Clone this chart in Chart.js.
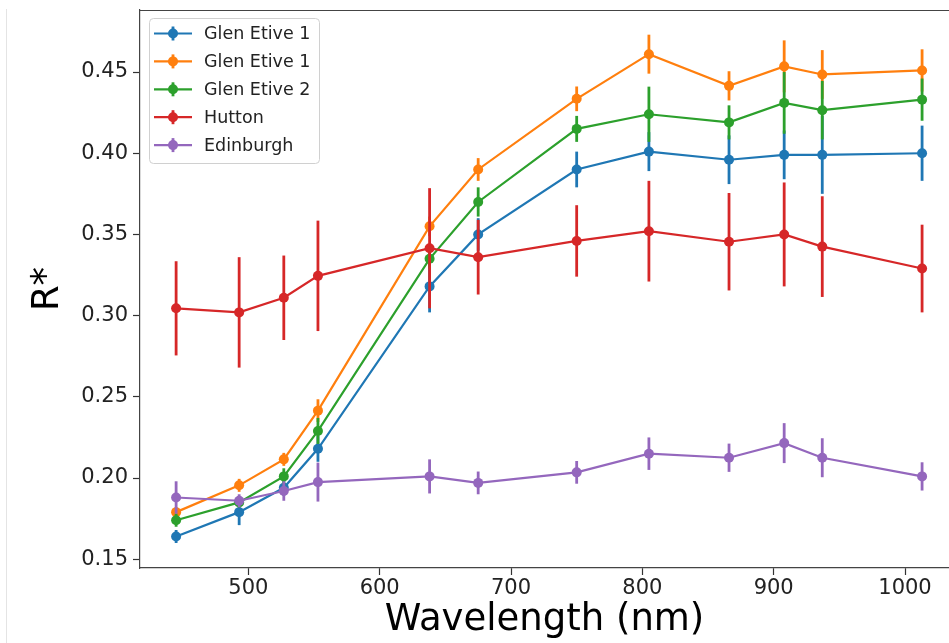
<!DOCTYPE html>
<html>
<head>
<meta charset="utf-8">
<script src="https://cdn.jsdelivr.net/npm/chart.js@4.4.0/dist/chart.umd.min.js"></script>
<style>
  body { margin: 0; background: #fff; overflow: hidden; }
  #wrap { position: relative; width: 949px; height: 643px; overflow: hidden; }
  #edge { position: absolute; left: 6px; top: 9px; bottom: 0; width: 1px; background: #e4e4e4; }
</style>
</head>
<body>
<div id="wrap">
  <!-- a little wider than the page: the reference axes run off the right edge -->
  <canvas id="chart" width="954" height="643"></canvas>
  <div id="edge"></div>
</div>
<script>
// wavelengths of the bands (nm)
const wavelengths = [445, 493, 527, 553, 638, 675, 750, 805, 866, 908, 937, 1013];

const names = ["Glen Etive 1", "Glen Etive 1", "Glen Etive 2", "Hutton", "Edinburgh"];
const colors = ["#1f77b4", "#ff7f0e", "#2ca02c", "#d62728", "#9467bd"];

const glenEtive1a = [0.164, 0.179, 0.194, 0.218, 0.318, 0.350, 0.390, 0.401, 0.396, 0.399, 0.399, 0.400];
const glenEtive1aErr = [0.004, 0.008, 0.005, 0.008, 0.016, 0.010, 0.011, 0.012, 0.015, 0.015, 0.024, 0.017];

const glenEtive1b = [0.179, 0.1955, 0.2115, 0.2415, 0.355, 0.390, 0.4335, 0.461, 0.4415, 0.4535, 0.4485, 0.451];
const glenEtive1bErr = [0.003, 0.004, 0.004, 0.007, 0.006, 0.007, 0.0076, 0.012, 0.009, 0.016, 0.015, 0.013];

const glenEtive2 = [0.174, 0.185, 0.201, 0.229, 0.335, 0.370, 0.415, 0.424, 0.419, 0.431, 0.4265, 0.433];
const glenEtive2Err = [0.004, 0.003, 0.005, 0.008, 0.006, 0.009, 0.008, 0.017, 0.0105, 0.019, 0.018, 0.013];

const hutton = [0.3045, 0.302, 0.311, 0.3245, 0.3415, 0.336, 0.346, 0.352, 0.3455, 0.350, 0.3425, 0.329];
const huttonErr = [0.029, 0.034, 0.026, 0.034, 0.037, 0.023, 0.022, 0.031, 0.030, 0.032, 0.031, 0.027];

const edinburgh = [0.188, 0.186, 0.192, 0.1975, 0.201, 0.197, 0.2035, 0.215, 0.2125, 0.2215, 0.2125, 0.201];
const edinburghErr = [0.010, 0.004, 0.006, 0.012, 0.0105, 0.007, 0.007, 0.010, 0.0087, 0.0123, 0.012, 0.0087];

const xTicks = [500, 600, 700, 800, 900, 1000];
const yTicks = [0.15, 0.20, 0.25, 0.30, 0.35, 0.40, 0.45];

const series = [glenEtive1a, glenEtive1b, glenEtive2, hutton, edinburgh];
const errors = [glenEtive1aErr, glenEtive1bErr, glenEtive2Err, huttonErr, edinburghErr];

const FONT = "'DejaVu Sans', sans-serif";

// vertical error bars, drawn just under each dataset's own line
const errorBars = {
  id: "errorBars",
  beforeDatasetDraw(chart, args) {
    const i = args.index;
    const ctx = chart.ctx;
    const y = chart.scales.y;
    ctx.save();
    ctx.strokeStyle = colors[i];
    ctx.lineWidth = 2.8;
    args.meta.data.forEach((pt, j) => {
      const v = series[i][j], e = errors[i][j];
      ctx.beginPath();
      ctx.moveTo(pt.x, y.getPixelForValue(v - e));
      ctx.lineTo(pt.x, y.getPixelForValue(v + e));
      ctx.stroke();
    });
    ctx.restore();
  }
};

// top spine + matplotlib-like legend inside the axes
const frame = {
  id: "frame",
  afterDraw(chart) {
    const ctx = chart.ctx;
    const a = chart.chartArea;
    ctx.save();
    ctx.strokeStyle = "#444";
    ctx.lineWidth = 1.2;
    ctx.beginPath();
    ctx.moveTo(a.left, a.top + 0.5);
    ctx.lineTo(a.right, a.top + 0.5);
    ctx.stroke();

    const bx = a.left + 9, by = a.top + 8, bw = 170, bh = 145;
    ctx.beginPath();
    ctx.roundRect(bx + 0.5, by + 0.5, bw, bh, 4);
    ctx.fillStyle = "rgba(255,255,255,0.8)";
    ctx.fill();
    ctx.strokeStyle = "#d0d0d0";
    ctx.lineWidth = 1;
    ctx.stroke();

    ctx.font = "17.5px " + FONT;
    ctx.textBaseline = "middle";
    ctx.textAlign = "left";
    names.forEach((name, k) => {
      const ry = by + 15.5 + k * 27.9;
      const mx = bx + 24;
      ctx.strokeStyle = colors[k];
      ctx.lineWidth = 2.2;
      ctx.beginPath();
      ctx.moveTo(bx + 5, ry);
      ctx.lineTo(bx + 43, ry);
      ctx.stroke();
      ctx.lineWidth = 2.8;
      ctx.beginPath();
      ctx.moveTo(mx, ry - 7);
      ctx.lineTo(mx, ry + 7);
      ctx.stroke();
      ctx.fillStyle = colors[k];
      ctx.beginPath();
      ctx.arc(mx, ry, 5, 0, Math.PI * 2);
      ctx.fill();
      ctx.fillStyle = "#222";
      ctx.fillText(name, bx + 55, ry + 1);
    });
    ctx.restore();
  }
};

const datasets = names.map((name, i) => ({
  label: name,
  data: wavelengths.map((w, j) => ({ x: w, y: series[i][j] })),
  borderColor: colors[i],
  backgroundColor: colors[i],
  borderWidth: 2.2,
  pointRadius: 5,
  pointBorderWidth: 0,
  pointBackgroundColor: colors[i],
  tension: 0,
  fill: false,
  order: names.length - i
}));

new Chart(document.getElementById("chart"), {
  type: "line",
  data: { datasets },
  plugins: [errorBars, frame],
  options: {
    responsive: false,
    animation: false,
    layout: { padding: { left: 0, right: 0, top: 10, bottom: 0 } },
    plugins: {
      legend: { display: false },
      tooltip: { enabled: false }
    },
    scales: {
      x: {
        type: "linear",
        min: 417.5,
        max: 1033.5,
        afterBuildTicks: s => { s.ticks = xTicks.map(v => ({ value: v })); },
        afterFit: s => { s.height = 75; s.paddingLeft = 0; s.paddingRight = 0; },
        ticks: {
          font: { family: FONT, size: 21 },
          color: "#222",
          padding: 1,
          maxRotation: 0,
          autoSkip: false,
          callback: v => String(v)
        },
        grid: { drawOnChartArea: false, tickLength: 7, color: "#333", tickWidth: 1.2 },
        border: { color: "#444", width: 1.2 },
        title: {
          display: true,
          text: "Wavelength (nm)",
          font: { family: FONT, size: 37 },
          color: "#000",
          padding: { top: 0, bottom: 0 }
        }
      },
      y: {
        min: 0.1446,
        max: 0.4882,
        afterBuildTicks: s => { s.ticks = yTicks.map(v => ({ value: v })); },
        afterFit: s => { s.width = 140; s.paddingTop = 0; s.paddingBottom = 0; },
        ticks: {
          font: { family: FONT, size: 21 },
          color: "#222",
          padding: 5,
          autoSkip: false,
          callback: v => v.toFixed(2)
        },
        grid: { drawOnChartArea: false, tickLength: 7, color: "#333", tickWidth: 1.2 },
        border: { color: "#444", width: 1.2 },
        title: {
          display: true,
          text: "R*",
          font: { family: FONT, size: 37 },
          color: "#000",
          padding: { top: 26, bottom: 0 }
        }
      }
    }
  }
});
</script>
</body>
</html>
